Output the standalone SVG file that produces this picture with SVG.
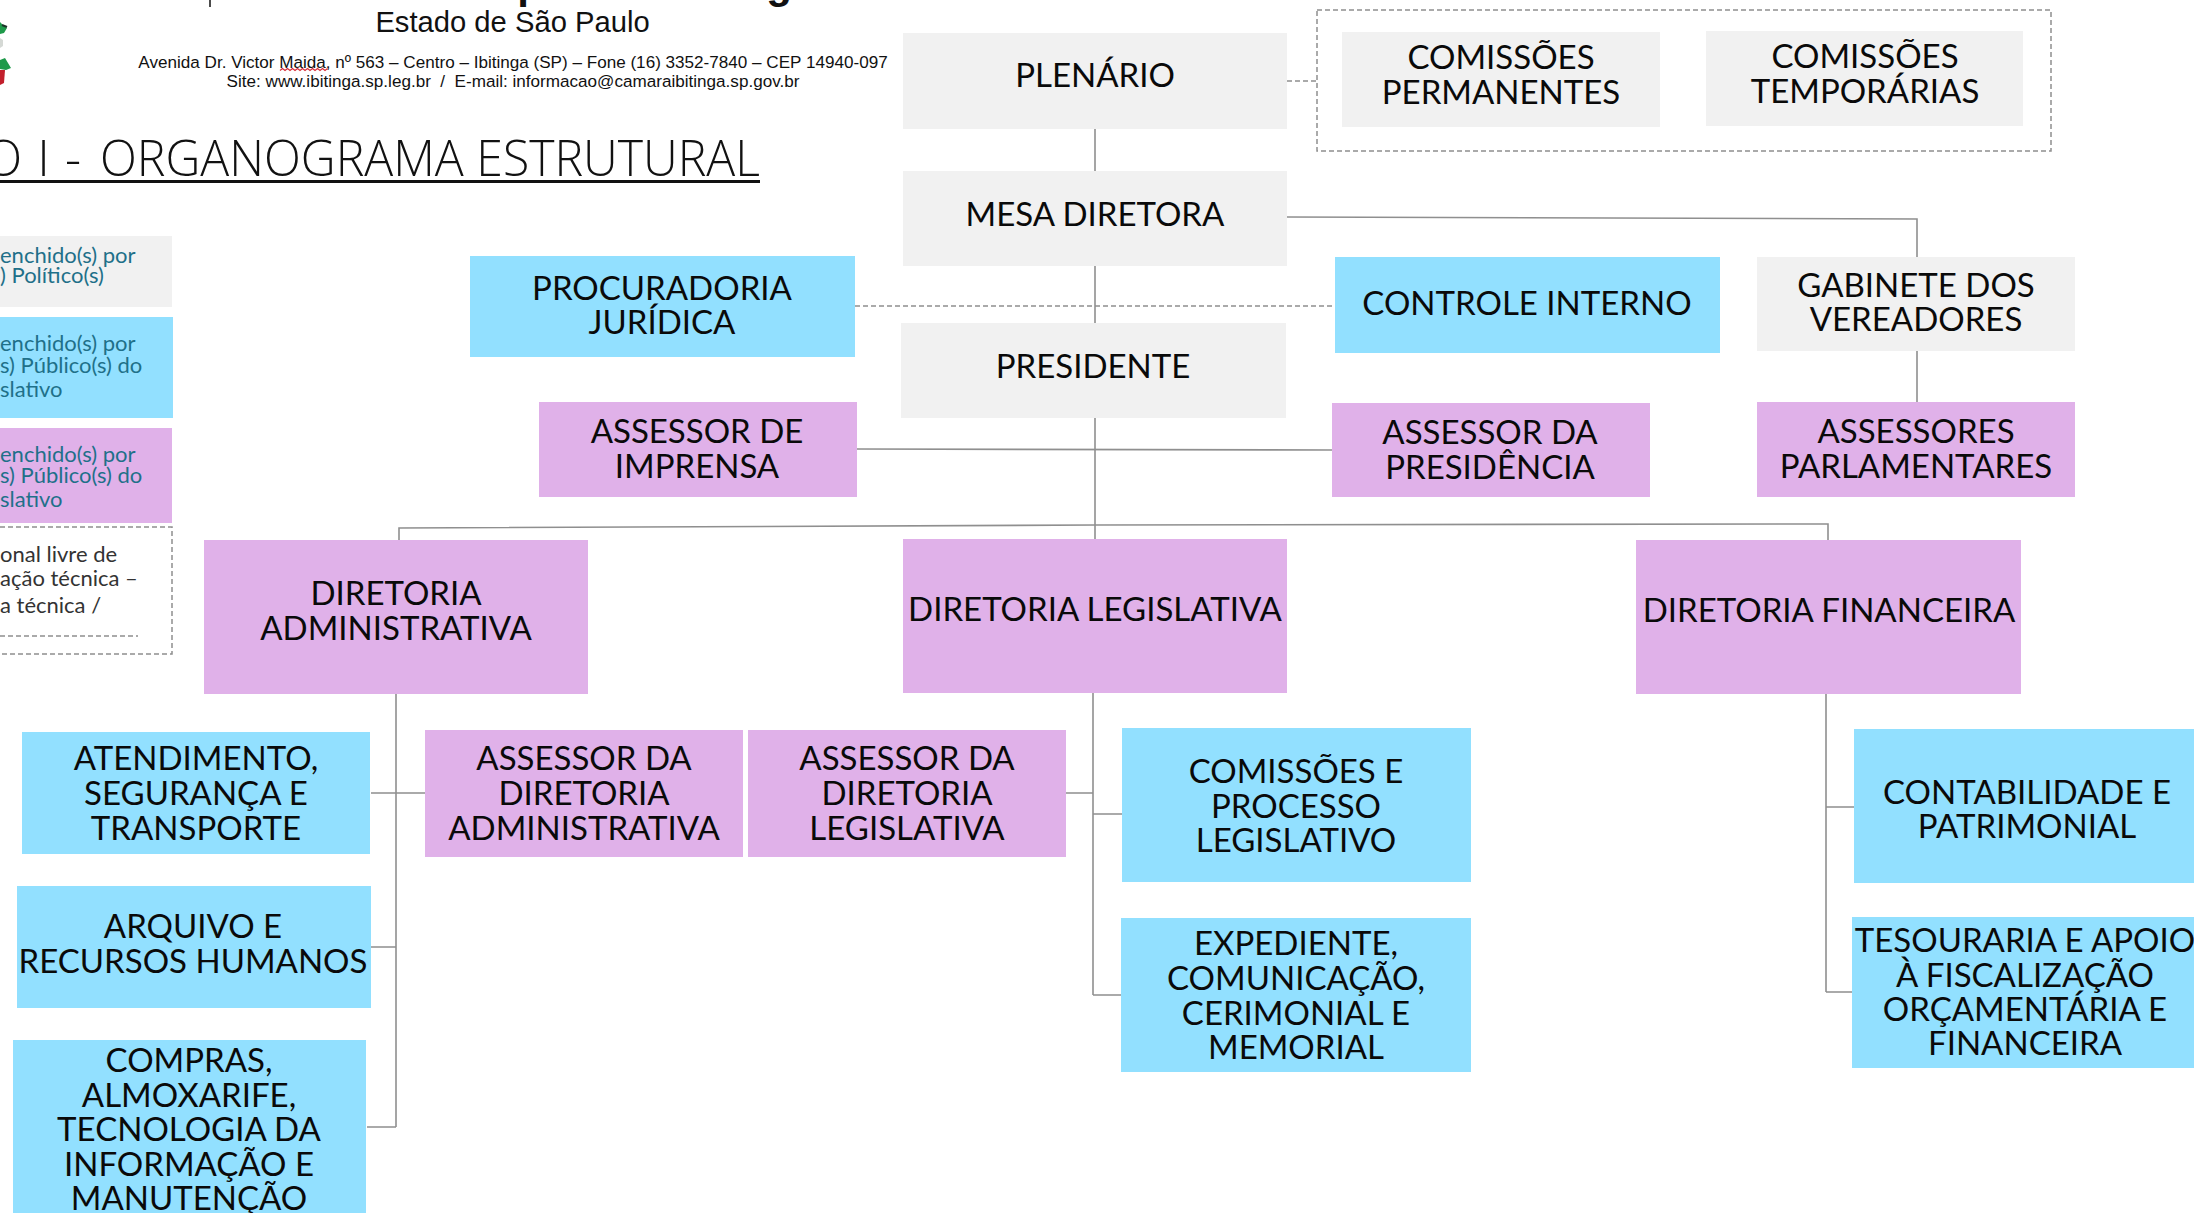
<svg xmlns="http://www.w3.org/2000/svg" width="2194" height="1213" viewBox="0 0 2194 1213">
<style>
.g{fill:#f1f1f1}.b{fill:#92e0ff}.p{fill:#e0b1e9}
.n{font-family:"Lato","Open Sans",sans-serif;font-size:33px;fill:#0a0a0a;text-anchor:middle}
.h{font-family:"Liberation Sans",Arial,sans-serif;fill:#111;text-anchor:middle}
.l{font-family:"Lato","Open Sans",sans-serif;font-size:22px;fill:#1f7089}
.d{font-family:"Lato","Open Sans",sans-serif;font-size:22px;fill:#333}
.t{font-family:"Open Sans",sans-serif;font-size:50px;font-weight:300;fill:#111}
.c{fill:none;stroke:#8f8f8f;stroke-width:1.6}
.da{fill:none;stroke:#8f8f8f;stroke-width:1.5;stroke-dasharray:5 3}
</style>
<rect width="2194" height="1213" fill="#fff"/>
<g id="header">
<line x1="210" y1="0" x2="210" y2="7" stroke="#111" stroke-width="1.5"/>
<text class="h" x="530" y="-2" font-size="42" font-weight="700">p</text>
<text class="h" x="779" y="-2" font-size="42" font-weight="700">g</text>
<text class="h" x="512.500" y="32" font-size="29.200">Estado de São Paulo</text>
<text class="h" x="513" y="68" font-size="17.100">Avenida Dr. Victor Maida, nº 563 – Centro – Ibitinga (SP) – Fone (16) 3352-7840 – CEP 14940-097</text>
<text class="h" x="513" y="87" font-size="17.100" xml:space="preserve">Site: www.ibitinga.sp.leg.br  /  E-mail: informacao@camaraibitinga.sp.gov.br</text>
<path d="M280 70.500l2.500-2 2.500 2 2.500-2 2.500 2 2.500-2 2.500 2 2.500-2 2.500 2 2.500-2 2.500 2 2.500-2 2.500 2 2.500-2 2.500 2 2.500-2 2.500 2 2.500-2 2.500 2 2.500-2" fill="none" stroke="#d8303a" stroke-width="1.2"/>
<path d="M0 22l3 3 4 3-3 5-4 1zM0 60l5-2 6 10-5 2-6-1z" fill="#1f9a4a"/>
<path d="M0 70l5 0-1 13-4 2z" fill="#c21f2c"/>
<path d="M0 38l3 2v6l-3 2z" fill="#d5d9d5"/>
<path d="M2 25l5 2" stroke="#1c3328" stroke-width="2" fill="none"/>
<text class="t" x="-16" y="176" textLength="97" lengthAdjust="spacing">O I -</text>
<text class="t" x="100" y="176" textLength="660" lengthAdjust="spacingAndGlyphs">ORGANOGRAMA ESTRUTURAL</text>
<rect x="0" y="180" width="760" height="3" fill="#111"/>
</g>
<g id="connectors">
<path class="c" d="M1095 129V171M1095 266V323M1095 418V540"/>
<path class="da" d="M1287 81H1317M855 306H1335"/>
<path class="c" d="M1287 217L1917 219V257M1917 351V402"/>
<path class="c" d="M856 449L1332 450"/>
<path class="c" d="M399 540V528L1095 525L1828 524V540"/>
<path class="c" d="M396 694V1127M371 793H425M371 947H396M367 1127H396"/>
<path class="c" d="M1093 693V995M1066 793H1093M1093 814H1122M1093 995H1121"/>
<path class="c" d="M1826 694V992M1826 807H1854M1826 992H1852"/>
</g>
<g id="legend">
<rect class="g" x="0" y="236" width="172" height="71"/>
<text class="l" x="0" y="263">enchido(s) por</text><text class="l" x="0" y="283" >) Político(s)</text>
<rect class="b" x="0" y="317" width="173" height="101"/>
<text class="l" x="0" y="351">enchido(s) por</text><text class="l" x="0" y="373">s) Público(s) do</text><text class="l" x="0" y="397">slativo</text>
<rect class="p" x="0" y="428" width="172" height="95"/>
<text class="l" x="0" y="462">enchido(s) por</text><text class="l" x="0" y="483">s) Público(s) do</text><text class="l" x="0" y="507">slativo</text>
<path class="da" d="M0 527H172V654H0M0 636H138"/>
<text class="d" x="0" y="562">onal livre de</text><text class="d" x="0" y="586">ação técnica –</text><text class="d" x="0" y="613">a técnica /</text>
</g>
<g id="plenario"><rect class="g" x="903" y="33" width="384" height="96"/><text class="n" x="1095" y="87">PLENÁRIO</text></g>
<g id="comissoes"><rect class="da" x="1317" y="10" width="734" height="141"/></g>
<g id="permanentes"><rect class="g" x="1342" y="32" width="318" height="95"/><text class="n" x="1501" y="69">COMISSÕES</text><text class="n" x="1501" y="104">PERMANENTES</text></g>
<g id="temporarias"><rect class="g" x="1706" y="31" width="317" height="95"/><text class="n" x="1865" y="68">COMISSÕES</text><text class="n" x="1865" y="103">TEMPORÁRIAS</text></g>
<g id="mesa"><rect class="g" x="903" y="171" width="384" height="95"/><text class="n" x="1095" y="226">MESA DIRETORA</text></g>
<g id="procuradoria"><rect class="b" x="470" y="256" width="385" height="101"/><text class="n" x="662" y="300">PROCURADORIA</text><text class="n" x="662" y="334">JURÍDICA</text></g>
<g id="controle"><rect class="b" x="1335" y="257" width="385" height="96"/><text class="n" x="1527" y="315">CONTROLE INTERNO</text></g>
<g id="gabinete"><rect class="g" x="1757" y="257" width="318" height="94"/><text class="n" x="1916" y="297">GABINETE DOS</text><text class="n" x="1916" y="331">VEREADORES</text></g>
<g id="presidente"><rect class="g" x="901" y="323" width="385" height="95"/><text class="n" x="1093" y="378">PRESIDENTE</text></g>
<g id="imprensa"><rect class="p" x="539" y="402" width="318" height="95"/><text class="n" x="697" y="443">ASSESSOR DE</text><text class="n" x="697" y="478">IMPRENSA</text></g>
<g id="ass-presidencia"><rect class="p" x="1332" y="403" width="318" height="94"/><text class="n" x="1490" y="444">ASSESSOR DA</text><text class="n" x="1490" y="479">PRESIDÊNCIA</text></g>
<g id="parlamentares"><rect class="p" x="1757" y="402" width="318" height="95"/><text class="n" x="1916" y="443">ASSESSORES</text><text class="n" x="1916" y="478">PARLAMENTARES</text></g>
<g id="dir-adm"><rect class="p" x="204" y="540" width="384" height="154"/><text class="n" x="396" y="605">DIRETORIA</text><text class="n" x="396" y="640">ADMINISTRATIVA</text></g>
<g id="dir-leg"><rect class="p" x="903" y="539" width="384" height="154"/><text class="n" x="1095" y="621">DIRETORIA LEGISLATIVA</text></g>
<g id="dir-fin"><rect class="p" x="1636" y="540" width="385" height="154"/><text class="n" x="1829" y="622">DIRETORIA FINANCEIRA</text></g>
<g id="atendimento"><rect class="b" x="22" y="732" width="348" height="122"/><text class="n" x="196" y="770">ATENDIMENTO,</text><text class="n" x="196" y="805">SEGURANÇA E</text><text class="n" x="196" y="840">TRANSPORTE</text></g>
<g id="arquivo"><rect class="b" x="17" y="886" width="354" height="122"/><text class="n" x="193" y="938">ARQUIVO E</text><text class="n" x="193" y="973">RECURSOS HUMANOS</text></g>
<g id="compras"><rect class="b" x="13" y="1040" width="353" height="173"/><text class="n" x="189" y="1072">COMPRAS,</text><text class="n" x="189" y="1107">ALMOXARIFE,</text><text class="n" x="189" y="1141">TECNOLOGIA DA</text><text class="n" x="189" y="1176">INFORMAÇÃO E</text><text class="n" x="189" y="1210">MANUTENÇÃO</text></g>
<g id="ass-adm"><rect class="p" x="425" y="730" width="318" height="127"/><text class="n" x="584" y="770">ASSESSOR DA</text><text class="n" x="584" y="805">DIRETORIA</text><text class="n" x="584" y="840">ADMINISTRATIVA</text></g>
<g id="ass-leg"><rect class="p" x="748" y="730" width="318" height="127"/><text class="n" x="907" y="770">ASSESSOR DA</text><text class="n" x="907" y="805">DIRETORIA</text><text class="n" x="907" y="840">LEGISLATIVA</text></g>
<g id="processo"><rect class="b" x="1122" y="728" width="349" height="154"/><text class="n" x="1296" y="783">COMISSÕES E</text><text class="n" x="1296" y="818">PROCESSO</text><text class="n" x="1296" y="852">LEGISLATIVO</text></g>
<g id="expediente"><rect class="b" x="1121" y="918" width="350" height="154"/><text class="n" x="1296" y="955">EXPEDIENTE,</text><text class="n" x="1296" y="990">COMUNICAÇÃO,</text><text class="n" x="1296" y="1025">CERIMONIAL E</text><text class="n" x="1296" y="1059">MEMORIAL</text></g>
<g id="contabilidade"><rect class="b" x="1854" y="729" width="340" height="154"/><text class="n" x="2027" y="804">CONTABILIDADE E</text><text class="n" x="2027" y="838">PATRIMONIAL</text></g>
<g id="tesouraria"><rect class="b" x="1852" y="917" width="342" height="151"/><text class="n" x="2025" y="952">TESOURARIA E APOIO</text><text class="n" x="2025" y="987">À FISCALIZAÇÃO</text><text class="n" x="2025" y="1021">ORÇAMENTÁRIA E</text><text class="n" x="2025" y="1055">FINANCEIRA</text></g>
</svg>
